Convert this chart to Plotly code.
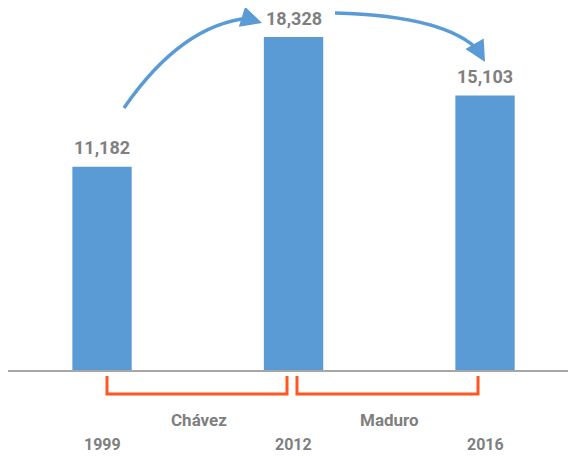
import plotly.graph_objects as go

years = ["1999", "2012", "2016"]
values = [11182, 18328, 15103]
value_labels = ["11,182", "18,328", "15,103"]
eras = ["Chávez", "Maduro"]

BLUE = "#5B9BD5"
GREY = "#7F7F7F"
ORANGE = "#FF5722"
FONT = "Roboto, Liberation Sans, sans-serif"

W, H = 576, 458
L, R, T, B = 0, 8, 12, 96
PW, PH = W - L - R, H - T - B
OFF = 8  # page body margin
pos = list(range(len(years)))


def px(x, y):
    # on-screen pixel position -> paper coordinates
    return (x - OFF - L) / PW, (H - B - (y - OFF)) / PH


fig = go.Figure()

fig.add_trace(
    go.Bar(
        x=pos,
        y=values,
        marker=dict(color=BLUE, line=dict(width=0)),
        width=0.31,
        hovertext=years,
    )
)

for p, v, lab in zip(pos, values, value_labels):
    fig.add_annotation(
        x=p, y=v, text="<b>" + lab + "</b>", showarrow=False,
        xanchor="center", yanchor="middle", yshift=19,
        font=dict(family=FONT, size=18, color=GREY),
    )


def path(points, cmd="Q"):
    p = [px(*pt) for pt in points]
    s = "M %.4f %.4f %s " % (p[0][0], p[0][1], cmd)
    s += " ".join("%.4f %.4f" % q for q in p[1:])
    return s


# curved arrows
fig.add_shape(type="path", xref="paper", yref="paper",
              path=path([(124, 108), (182, 24), (250, 18)]),
              line=dict(color=BLUE, width=3.5))
fig.add_shape(type="path", xref="paper", yref="paper",
              path=path([(335, 13), (448, 16), (480, 52)]),
              line=dict(color=BLUE, width=3.5))

for tip, off in [((262, 23), (-16, -5)), ((485, 62), (-8, -14))]:
    tx, ty = px(*tip)
    fig.add_annotation(
        x=tx, y=ty, xref="paper", yref="paper", text="",
        showarrow=True, ax=off[0], ay=off[1],
        arrowhead=2, arrowsize=1.2, arrowwidth=3.5, arrowcolor=BLUE,
    )

# brackets
for x0, x1 in [(107, 287), (297, 478)]:
    fig.add_shape(type="path", xref="paper", yref="paper",
                  path="M %.4f %.4f L %.4f %.4f L %.4f %.4f L %.4f %.4f" % (
                      *px(x0, 376), *px(x0, 394), *px(x1, 394), *px(x1, 376)),
                  line=dict(color=ORANGE, width=3))

for name, cx in zip(eras, [199, 389]):
    ex, ey = px(cx, 420)
    fig.add_annotation(
        x=ex, y=ey, xref="paper", yref="paper", text="<b>" + name + "</b>",
        showarrow=False, xanchor="center", yanchor="middle",
        font=dict(family=FONT, size=17, color=GREY),
    )

# year labels under the axis
for p, yr in zip(pos, years):
    fig.add_annotation(
        x=p, y=0, yref="y", text="<b>" + yr + "</b>", showarrow=False,
        xanchor="center", yanchor="middle", yshift=-74,
        font=dict(family=FONT, size=16, color=GREY),
    )

fig.update_layout(
    template="none",
    width=W, height=H,
    margin=dict(l=L, r=R, t=T, b=B),
    paper_bgcolor="white", plot_bgcolor="white",
    showlegend=False,
    xaxis=dict(
        range=[-0.491, 2.475], automargin=False,
        showline=True, linecolor="#A6A6A6", linewidth=1.5,
        ticks="", showticklabels=False, showgrid=False, zeroline=False,
    ),
    yaxis=dict(visible=False, automargin=False, range=[0, 18328 * PH / 333]),
)

fig.write_html("out.html")
